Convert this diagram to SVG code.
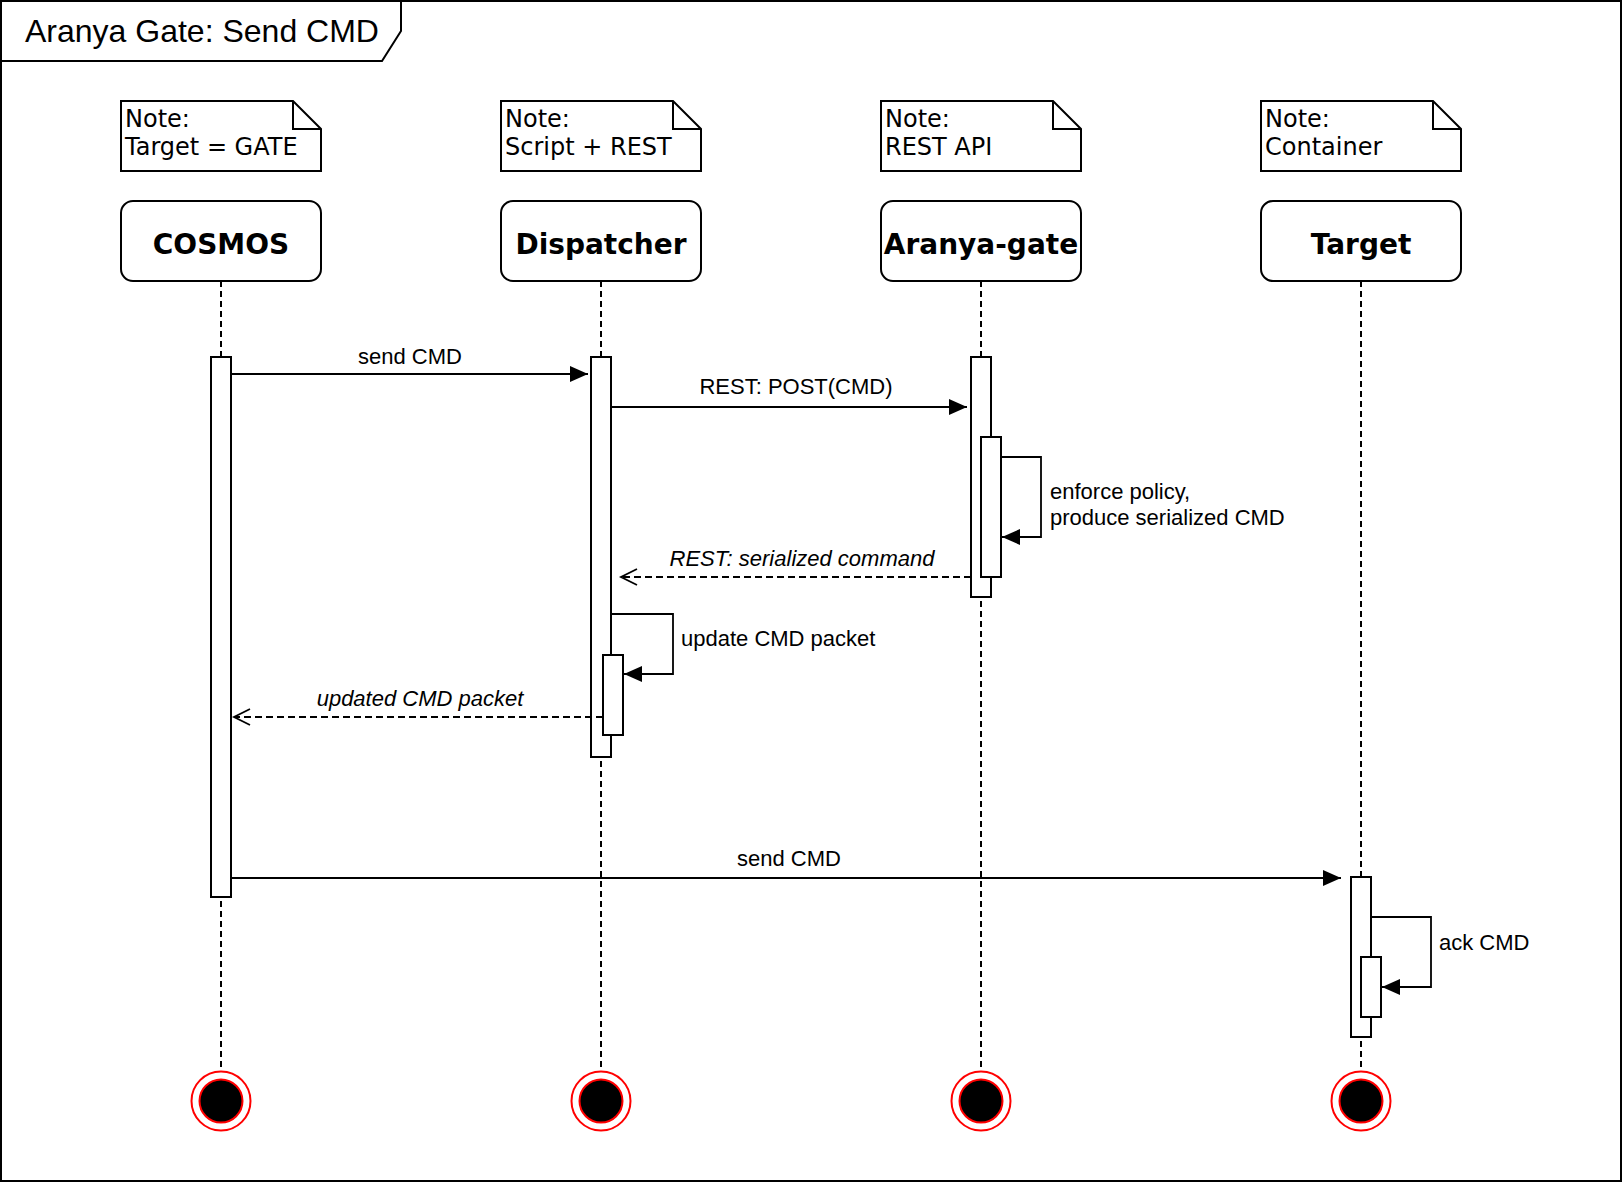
<svg xmlns="http://www.w3.org/2000/svg" width="1624" height="1182" viewBox="0 0 1624 1182">
<style>
.frame{fill:#fff;stroke:#000;stroke-width:2}
.box{fill:#fff;stroke:#000;stroke-width:2}
.note{fill:#fff;stroke:#000;stroke-width:2;stroke-linejoin:miter}
.life{stroke:#000;stroke-width:2;stroke-dasharray:6 4;fill:none}
.act{fill:#fff;stroke:#000;stroke-width:2}
.msg{stroke:#000;stroke-width:1.8;fill:none}
.ret{stroke:#000;stroke-width:1.8;fill:none;stroke-dasharray:7 4}
.ntxt{font-family:"DejaVu Sans",Verdana,sans-serif;font-size:24px;fill:#000}
.htxt{font-family:"DejaVu Sans",Verdana,sans-serif;font-size:28px;font-weight:bold;fill:#000;text-anchor:middle}
.mtxt{font-family:"Liberation Sans",Arial,Helvetica,sans-serif;font-size:22px;fill:#000}
.it{font-style:italic}
.mid{text-anchor:middle}
.endo{fill:#fff;stroke:#f00;stroke-width:2}
.endi{fill:#000;stroke:#f00;stroke-width:2}
</style>
<defs>
<marker id="block" markerUnits="userSpaceOnUse" markerWidth="18" markerHeight="16" refX="18" refY="8" orient="auto" viewBox="0 0 18 16">
<path d="M0,0 L18,8 L0,16 Z" fill="#000"/>
</marker>
<marker id="open" markerUnits="userSpaceOnUse" markerWidth="20" markerHeight="20" refX="17" refY="10" orient="auto" viewBox="0 0 20 20">
<path d="M1,2 L17,10 L1,18" fill="none" stroke="#000" stroke-width="1.8"/>
</marker>
</defs>

<g id="frame">
<rect class="frame" x="1" y="1" width="1620" height="1180"/>
<path class="frame" d="M1,1 L401,1 L401,31 L382,61 L1,61 Z"/>
<text x="25" y="42" font-family="'Liberation Sans',Arial,Helvetica,sans-serif" font-size="32" fill="#000">Aranya Gate: Send CMD</text>
</g>

<g id="lifelines">
<line class="life" x1="221" y1="281" x2="221" y2="1072"/>
<line class="life" x1="601" y1="281" x2="601" y2="1072"/>
<line class="life" x1="981" y1="281" x2="981" y2="1072"/>
<line class="life" x1="1361" y1="281" x2="1361" y2="1072"/>
</g>

<g id="note-cosmos">
<path class="note" d="M121,101 L293,101 L321,129 L321,171 L121,171 Z M293,101 L293,129 L321,129"/>
<text class="ntxt" x="125" y="127">Note:</text>
<text class="ntxt" x="125" y="155">Target = GATE</text>
</g>
<g id="note-dispatcher">
<path class="note" d="M501,101 L673,101 L701,129 L701,171 L501,171 Z M673,101 L673,129 L701,129"/>
<text class="ntxt" x="505" y="127">Note:</text>
<text class="ntxt" x="505" y="155">Script + REST</text>
</g>
<g id="note-aranya">
<path class="note" d="M881,101 L1053,101 L1081,129 L1081,171 L881,171 Z M1053,101 L1053,129 L1081,129"/>
<text class="ntxt" x="885" y="127">Note:</text>
<text class="ntxt" x="885" y="155">REST API</text>
</g>
<g id="note-target">
<path class="note" d="M1261,101 L1433,101 L1461,129 L1461,171 L1261,171 Z M1433,101 L1433,129 L1461,129"/>
<text class="ntxt" x="1265" y="127">Note:</text>
<text class="ntxt" x="1265" y="155">Container</text>
</g>

<g id="cosmos">
<rect class="box" x="121" y="201" width="200" height="80" rx="12"/>
<text class="htxt" x="221" y="254">COSMOS</text>
<rect class="act" x="211" y="357" width="20" height="540"/>
<circle class="endo" cx="221" cy="1101" r="29.5"/>
<circle class="endi" cx="221" cy="1101" r="21.5"/>
</g>

<g id="dispatcher">
<rect class="box" x="501" y="201" width="200" height="80" rx="12"/>
<text class="htxt" x="601" y="254">Dispatcher</text>
<rect class="act" x="591" y="357" width="20" height="400"/>
<rect class="act" x="603" y="655" width="20" height="80"/>
<circle class="endo" cx="601" cy="1101" r="29.5"/>
<circle class="endi" cx="601" cy="1101" r="21.5"/>
</g>

<g id="aranya-gate">
<rect class="box" x="881" y="201" width="200" height="80" rx="12"/>
<text class="htxt" x="981" y="254">Aranya-gate</text>
<rect class="act" x="971" y="357" width="20" height="240"/>
<rect class="act" x="981" y="437" width="20" height="140"/>
<circle class="endo" cx="981" cy="1101" r="29.5"/>
<circle class="endi" cx="981" cy="1101" r="21.5"/>
</g>

<g id="target">
<rect class="box" x="1261" y="201" width="200" height="80" rx="12"/>
<text class="htxt" x="1361" y="254">Target</text>
<rect class="act" x="1351" y="877" width="20" height="160"/>
<rect class="act" x="1361" y="957" width="20" height="60"/>
<circle class="endo" cx="1361" cy="1101" r="29.5"/>
<circle class="endi" cx="1361" cy="1101" r="21.5"/>
</g>

<g id="connectors">
<line class="msg" x1="231" y1="374" x2="588" y2="374" marker-end="url(#block)"/>
<text class="mtxt mid" x="410" y="364">send CMD</text>

<line class="msg" x1="611" y1="407" x2="967" y2="407" marker-end="url(#block)"/>
<text class="mtxt mid" x="796" y="394">REST: POST(CMD)</text>

<path class="msg" d="M1001,457 L1041,457 L1041,537 L1002,537" marker-end="url(#block)"/>
<text class="mtxt" x="1050" y="499">enforce policy,</text>
<text class="mtxt" x="1050" y="525">produce serialized CMD</text>

<line class="ret" x1="971" y1="577" x2="621" y2="577" marker-end="url(#open)"/>
<text class="mtxt it mid" x="802" y="566">REST: serialized command</text>

<path class="msg" d="M611,614 L673,614 L673,674 L624,674" marker-end="url(#block)"/>
<text class="mtxt" x="681" y="646">update CMD packet</text>

<line class="ret" x1="603" y1="717" x2="234" y2="717" marker-end="url(#open)"/>
<text class="mtxt it mid" x="420" y="706">updated CMD packet</text>

<line class="msg" x1="231" y1="878" x2="1341" y2="878" marker-end="url(#block)"/>
<text class="mtxt mid" x="789" y="866">send CMD</text>

<path class="msg" d="M1371,917 L1431,917 L1431,987 L1382,987" marker-end="url(#block)"/>
<text class="mtxt" x="1439" y="950">ack CMD</text>
</g>
</svg>
